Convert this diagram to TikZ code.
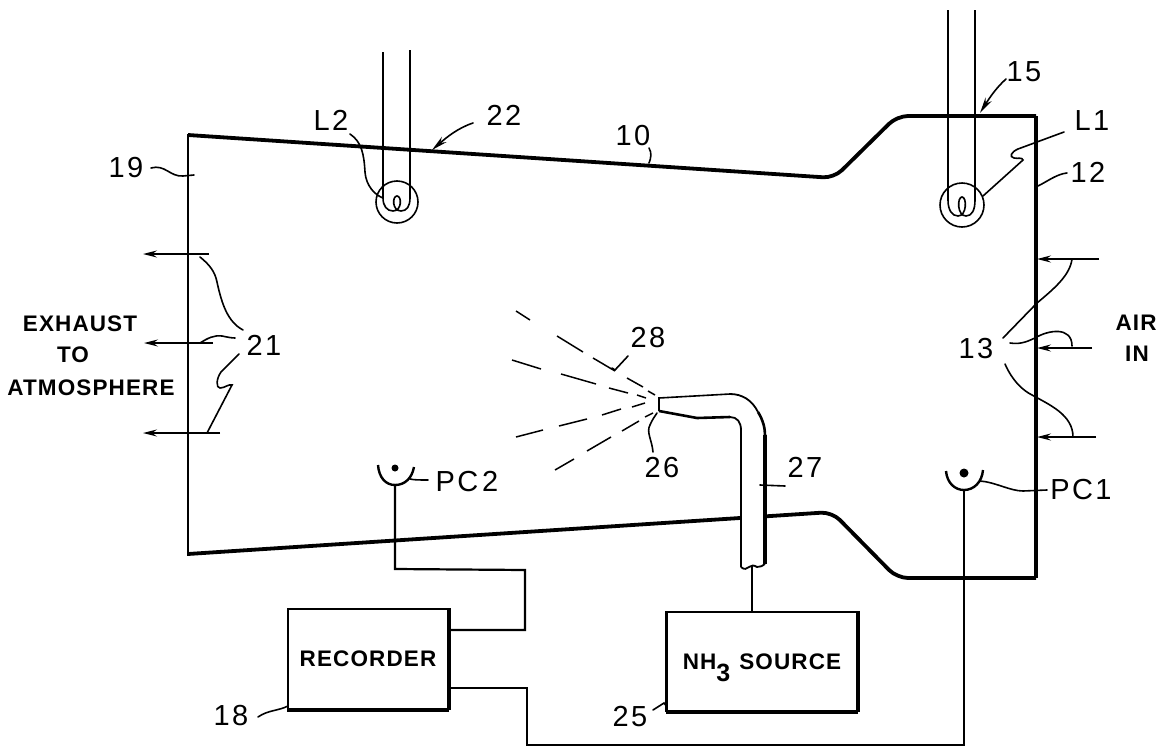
\documentclass[tikz,border=0pt]{standalone}
\usepackage{fontspec}
\usetikzlibrary{arrows.meta}
\setmainfont{Liberation Sans}
\newfontfamily\capsfont[LetterSpace=5]{Liberation Sans}
\newfontfamily\numfont[LetterSpace=8]{Liberation Sans}
\tikzset{
  x=1pt,y=-1pt,
  wall/.style={line width=3.8pt,line join=round,line cap=square,rounded corners=11pt},
  wire/.style={line width=2.2pt,line join=miter},
  thin line/.style={line width=1.6pt},
  leader/.style={line width=1.6pt,line cap=round},
  flow/.style={line width=1.6pt,-{Stealth[length=14pt,width=7pt,inset=5pt]}},
  spray/.style={line width=1.5pt},
  num/.style={inner sep=0pt,font=\numfont\fontsize{29}{29}\selectfont},
  caps/.style={inner sep=0pt,font=\capsfont\bfseries\fontsize{22.5}{22.5}\selectfont},
  unit/.style={draw,line width=2pt,inner sep=0pt,font=\capsfont\bfseries\fontsize{22.5}{22.5}\selectfont},
}
\begin{document}
\begin{tikzpicture}
\useasboundingbox (0,0) rectangle (1168,747);
% duct
\draw[wall] (188,135) -- (834,178) -- (897,116) -- (1036,116);
\draw[wall] (1036,578) -- (897,578) -- (832,512) -- (188,554);
\draw[line width=2.6pt] (188,133.5) -- (188,555.5);
\draw[line width=4pt] (1036,116) -- (1036,578);
% lamps
\draw[thin line] (383,52) -- (383,198) .. controls (383,206) and (387,211) .. (393,211) .. controls (402,211) and (402,196) .. (397,196) .. controls (392,196) and (392,211) .. (401,211) .. controls (407,211) and (410,206) .. (410,198) -- (410,50);
\draw[thin line] (397,202) circle (21);
\draw[thin line] (948,10) -- (948,200) .. controls (948,210) and (952,216) .. (958,216) .. controls (967,216) and (967,197) .. (962,197) .. controls (957,197) and (957,216) .. (966,216) .. controls (972,216) and (975,210) .. (975,200) -- (975,10);
\draw[thin line] (962,205) circle (22);
% exhaust arrows
\draw[flow] (209,254) -- (143,254);
\draw[flow] (213,343) -- (144,343);
\draw[flow] (220,433) -- (143,433);
% inlet arrows
\draw[flow] (1099,259) -- (1037,259);
\draw[flow] (1092,348) -- (1037,348);
\draw[flow] (1096,437) -- (1037,437);
% spray
\draw[spray] (516,311) -- (530,320) (557,336) -- (583,352) (593,358) -- (615,371) (627,378) -- (643,387) (648,391) -- (655,395);
\draw[spray] (512,360) -- (541,369) (561,374) -- (596,384) (609,388) -- (628,393) (637,395) -- (646,398);
\draw[spray] (516,437) -- (543,430) (559,426) -- (587,419) (602,415) -- (621,409) (632,407) -- (645,403);
\draw[spray] (555,470) -- (574,459) (587,451) -- (611,437) (622,431) -- (639,421) (645,417) -- (653,413);
% nozzle tube
\fill[white] (659,398) -- (730,394) .. controls (750,394) and (765,410) .. (765,435) -- (765,564) -- (741,567) -- (741,430) .. controls (741,422) and (737,417) .. (730,417) -- (697,418) -- (659,411) -- cycle;
\draw[line width=1.8pt,line join=round] (741,567) -- (741,430) .. controls (741,422) and (737,417) .. (730,417);
\draw[line width=2.6pt] (730,417) -- (697,418) -- (659,411);
\draw[line width=1.6pt] (659,411) -- (659,398) -- (730,394);
\draw[line width=1.8pt] (730,394) .. controls (742,394) and (752,400) .. (758,412);
\draw[line width=2.6pt] (758,412) .. controls (763,420) and (765,428) .. (765,435);
\draw[line width=3.2pt] (765,435) -- (765,564);
\draw[line width=1.8pt] (741,567) .. controls (744,570) and (747,569) .. (749,567) .. controls (751,565) and (754,565) .. (757,567) .. controls (760,567) and (763,566) .. (765,564);
\coordinate (tubeend) at (752,566);
% boxes
\node[unit,minimum width=160pt,minimum height=100pt] (recorder) at (368,659) {RECORDER};
\node[unit,minimum width=190pt,minimum height=99pt] (source) at (762,661.5) {NH\smash{\raisebox{-12pt}{\fontsize{25}{25}\selectfont 3}}\hspace{9pt}SOURCE};
\draw[line width=3.6pt] (recorder.north east) -- (recorder.south east);
\draw[line width=3pt] (recorder.south west) -- (recorder.south east);
\draw[line width=4pt] (source.north east) -- (source.south east);
\draw[line width=3.4pt] (source.south west) -- (source.south east);
\draw[line width=3pt] (source.north west) -- (source.south west);
% photocells
\coordinate (pctwo) at (395,485);
\coordinate (pcone) at (964,490);
\draw[line width=2.4pt] (378,465) .. controls (379,478) and (386,485) .. (395,485) .. controls (405,485) and (412,478) .. (414,467);
\fill (395,468) circle (3.5);
\draw[line width=2.4pt] (946,471) .. controls (947,483) and (955,490) .. (964,490) .. controls (974,490) and (982,482) .. (983,470);
\fill (964,473) circle (4.5);
% wires
\draw[wire] (pctwo) -- (395,569) -- (525,570) -- (525,630) -- (recorder.east |- 0,630);
\draw[wire] (pcone) -- (964,745) -- (527,745) -- (527,688) -- (recorder.east |- 0,688);
\draw[wire] (tubeend) -- (tubeend |- source.north);
% leaders
\draw[leader] (350,134) .. controls (362,142) and (364,155) .. (365,172) .. controls (366,186) and (375,195) .. (383,198);
\draw[leader,-{Stealth[length=16pt,width=7pt,inset=5pt]}] (473,123) .. controls (458,128) and (447,137) .. (432,150);
\draw[leader,-{Stealth[length=16pt,width=7pt,inset=5pt]}] (1006,79) .. controls (997,87) and (990,97) .. (980,113);
\draw[leader] (1064,132) -- (1018,149) .. controls (1011,152) and (1009,157) .. (1014,158) .. controls (1018,159) and (1022,157) .. (1023,160) -- (983,196);
\draw[leader] (1067,173) .. controls (1057,174) and (1048,181) .. (1038,186);
\draw[leader] (1003,338) -- (1037,303) .. controls (1055,288) and (1070,275) .. (1072,259);
\draw[leader] (1010,343) .. controls (1022,345) and (1030,340) .. (1035,338) .. controls (1048,330) and (1072,326) .. (1072,346);
\draw[leader] (1005,364) .. controls (1012,380) and (1022,390) .. (1032,395) .. controls (1050,405) and (1073,415) .. (1073,437);
\draw[leader] (200,257) .. controls (210,265) and (215,272) .. (217,282) .. controls (222,305) and (228,322) .. (243,330);
\draw[leader] (200,343) .. controls (208,338) and (214,335) .. (222,336) .. controls (227,337) and (231,338) .. (235,338);
\draw[leader] (239,354) -- (221,372) .. controls (216,379) and (216,388) .. (220,388) .. controls (225,388) and (228,384) .. (232,385) -- (207,433);
\draw[leader] (151,168) .. controls (165,164) and (170,177) .. (183,176) -- (194,175);
\draw[leader] (258,717) .. controls (268,710) and (278,711) .. (288,706);
\draw[leader] (653,710) -- (664,703) -- (667,707);
\draw[leader] (410,479) .. controls (414,480) and (420,480) .. (428,480);
\draw[leader] (980,481) .. controls (995,482) and (1010,491) .. (1023,491) -- (1047,490);
\draw[leader] (760,485) -- (785,486);
\draw[leader] (628,356) -- (615,370) -- (612,368);
\draw[leader] (653,452) .. controls (652,440) and (646,432) .. (650,425) .. controls (652,420) and (655,416) .. (657,413);
\draw[leader] (649,148) .. controls (652,153) and (651,158) .. (649,163);
% labels
\node[num] (n10) at (633,136) {10};
\node[num] (n12) at (1088,172) {12};
\node[num] (n13) at (976,349) {13};
\node[num] (n15) at (1024,72) {15};
\node[num] (n18) at (231,716) {18};
\node[num] (n19) at (126,168) {19};
\node[num] (n21) at (264,345) {21};
\node[num] (n22) at (504,115) {22};
\node[num] (n25) at (630,717) {25};
\node[num] (n26) at (662,468) {26};
\node[num] (n27) at (805,467) {27};
\node[num] (n28) at (648,338) {28};
\node[num] (nl1) at (1092,121) {L1};
\node[num] (nl2) at (331,120) {L2};
\node[num] (npc1) at (1081,490) {PC1};
\node[num] (npc2) at (467,482) {PC\hspace{4pt}2};
\node[caps] (ex1) at (80,324) {EXHAUST};
\node[caps] (ex2) at (73,355) {TO};
\node[caps] (ex3) at (91,388) {ATMOSPHERE};
\node[caps] (air1) at (1136,323) {AIR};
\node[caps] (air2) at (1137,354) {IN};
\end{tikzpicture}
\end{document}
